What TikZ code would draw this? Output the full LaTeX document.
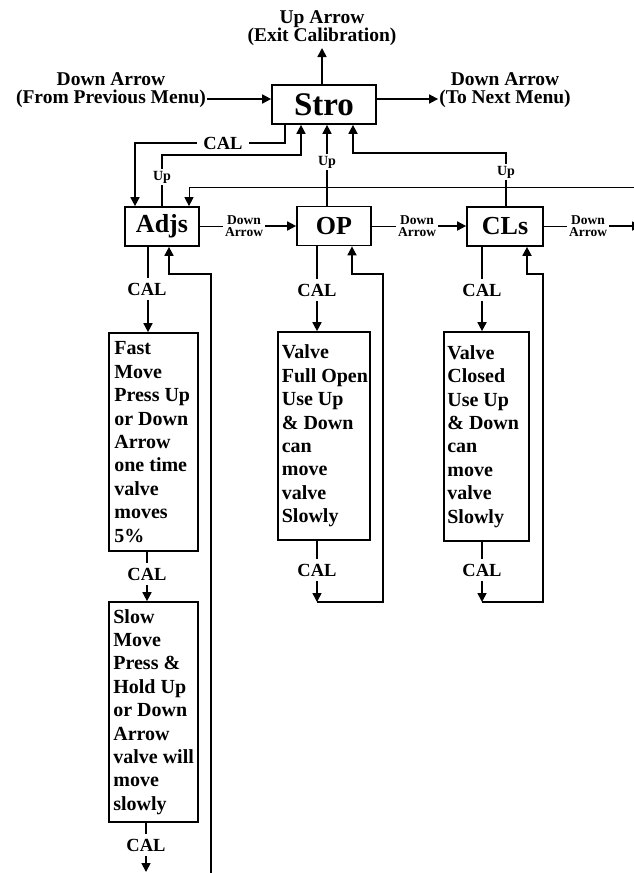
\documentclass[tikz,border=0pt]{standalone}
\usepackage{fontspec}
\setmainfont{Liberation Serif}
\usetikzlibrary{arrows.meta}
\begin{document}
\begin{tikzpicture}[x=1pt,y=-1pt,
  ln/.style={line width=1.7pt},
  thn/.style={line width=0.9pt},
  arr/.style={ln,-{Triangle[length=9pt,width=9pt]}},
  tarr/.style={thn,-{Triangle[length=9pt,width=9pt]}},
  box/.style={draw,line width=1.7pt,inner sep=0pt,minimum height=39pt,font=\bfseries\fontsize{26}{28}\selectfont},
  sub/.style={draw,line width=1.7pt,inner sep=0pt},
  btxt/.style={inner sep=0pt,align=left,anchor=west,font=\bfseries\fontsize{20}{23.4}\selectfont},
  cal/.style={fill=white,inner xsep=2pt,inner ysep=5pt,font=\bfseries\fontsize{18.5}{20}\selectfont},
  uplbl/.style={fill=white,inner sep=2pt,font=\bfseries\fontsize{14}{14}\selectfont},
  dn/.style={align=center,inner sep=2pt,font=\bfseries\fontsize{13.5}{12.6}\selectfont},
  toplbl/.style={align=center,inner sep=1pt,font=\bfseries\fontsize{19.5}{17.8}\selectfont}]
\useasboundingbox (0,0) rectangle (633,873);

% main box
\node[box,minimum width=104pt,font=\bfseries\fontsize{33}{36}\selectfont] (stro) at (324,104.5) {Stro};
\node[toplbl] (uptxt) at (322,28.5) {Up Arrow\\(Exit Calibration)};
\coordinate (uptip) at (322,48);
\draw[arr] (uptip |- stro.north) -- (uptip);
\coordinate (ay) at (0,99);
\node[toplbl] (ltxt) at (111,90) {Down Arrow\\(From Previous Menu)};
\draw[arr] (ltxt.east |- ay) -- (stro.west |- ay);
\node[toplbl] (rtxt) at (505,90) {Down Arrow\\(To Next Menu)};
\draw[arr] (stro.east |- ay) -- (rtxt.west |- ay);

% level boxes
\node[box,minimum width=74pt] (adjs) at (162,226.5) {Adjs};
\node[box,minimum width=74pt] (op) at (334,226) {OP};
\node[box,minimum width=76pt] (cls) at (505,226.5) {CLs};

% CAL from Stro to Adjs
\coordinate (c1) at (285,143);
\coordinate (calL) at (135,143);
\draw[arr] (c1 |- stro.south) -- (c1) -- (calL) -- (calL |- adjs.north);
\node[cal,inner xsep=6pt,inner ysep=2pt] (calS) at (223,143) {CAL};

% Up from Adjs
\coordinate (u1a) at (162,155);
\coordinate (u1b) at (301,155);
\draw[arr] (adjs.north) -- (u1a) -- (u1b) -- (u1b |- stro.south);
\node[uplbl] (upA) at (162,177) {Up};

% Up from OP
\coordinate (u2) at (327,0);
\draw[arr] (u2 |- op.north) -- (u2 |- stro.south);
\node[uplbl] (upO) at (327,162) {Up};

% Up from CLs
\coordinate (u3a) at (506,153);
\coordinate (u3b) at (353,153);
\draw[arr] (u3a |- cls.north) -- (u3a) -- (u3b) -- (u3b |- stro.south);
\node[uplbl] (upC) at (506,172) {Up};

% thin line entering from right
\coordinate (rin) at (634,187);
\coordinate (rin2) at (189,187);
\draw[tarr] (rin) -- (rin2) -- (rin2 |- adjs.north);

% Down arrows between level boxes
\node[dn] (d1) at (244,226) {Down\\Arrow};
\draw[thn] (adjs.east |- d1) -- (d1.west);
\draw[arr] (d1.east) -- (op.west |- d1);
\node[dn] (d2) at (417,226) {Down\\Arrow};
\draw[thn] (op.east |- d2) -- (d2.west);
\draw[arr] (d2.east) -- (cls.west |- d2);
\node[dn] (d3) at (588,226) {Down\\Arrow};
\draw[thn] (cls.east |- d3) -- (d3.west);
\coordinate (rout) at (641,226);
\draw[arr] (d3.east) -- (rout);

% sub boxes
\node[sub,minimum width=89pt,minimum height=218pt] (fast) at (153.5,442) {};
\node[btxt] (fastt) at ([xshift=6pt]fast.west) {Fast\\Move\\Press Up\\or Down\\Arrow\\one time\\valve\\moves\\5\%};
\node[sub,minimum width=89pt,minimum height=220pt] (slow) at (153.5,712) {};
\node[btxt] (slowt) at ([xshift=5pt]slow.west) {Slow\\Move\\Press \&\\Hold Up\\or Down\\Arrow\\valve will\\move\\slowly};
\node[sub,minimum width=92pt,minimum height=208pt] (opv) at (324,436) {};
\node[btxt] (opvt) at ([xshift=4.5pt]opv.west) {Valve\\Full Open\\Use Up\\\& Down\\can\\move\\valve\\Slowly};
\node[sub,minimum width=85pt,minimum height=209pt] (clv) at (486.5,436.5) {};
\node[btxt] (clvt) at ([xshift=4pt]clv.west) {Valve\\Closed\\Use Up\\\& Down\\can\\move\\valve\\Slowly};

% Adjs column
\coordinate (a1) at (148,0);
\draw[arr] (a1 |- adjs.south) -- (a1 |- fast.north);
\node[cal] (calA1) at (147,289) {CAL};
\coordinate (ar1) at (211,880);
\coordinate (ar2) at (211,274);
\coordinate (ar3) at (169,274);
\draw[arr] (ar1) -- (ar2) -- (ar3) -- (ar3 |- adjs.south);
\coordinate (a2) at (147,0);
\draw[arr] (a2 |- fast.south) -- (a2 |- slow.north);
\node[cal] (calA2) at (147,574) {CAL};
\coordinate (a3) at (146,872);
\draw[arr] (a3 |- slow.south) -- (a3);
\node[cal] (calA3) at (146,845) {CAL};

% OP column
\coordinate (o1) at (317,0);
\draw[arr] (o1 |- op.south) -- (o1 |- opv.north);
\node[cal] (calO1) at (317,290) {CAL};
\coordinate (o2) at (317,602);
\draw[arr] (o2 |- opv.south) -- (o2);
\node[cal] (calO2) at (317,570) {CAL};
\coordinate (o3) at (383,602);
\coordinate (o4) at (383,274);
\coordinate (o5) at (352,274);
\draw[arr] (o2) -- (o3) -- (o4) -- (o5) -- (o5 |- op.south);

% CLs column
\coordinate (k1) at (482,0);
\draw[arr] (k1 |- cls.south) -- (k1 |- clv.north);
\node[cal] (calC1) at (482,290) {CAL};
\coordinate (k2) at (482,602);
\draw[arr] (k2 |- clv.south) -- (k2);
\node[cal] (calC2) at (482,570) {CAL};
\coordinate (k3) at (543,602);
\coordinate (k4) at (543,274);
\coordinate (k5) at (527,274);
\draw[arr] (k2) -- (k3) -- (k4) -- (k5) -- (k5 |- cls.south);
\end{tikzpicture}
\end{document}
